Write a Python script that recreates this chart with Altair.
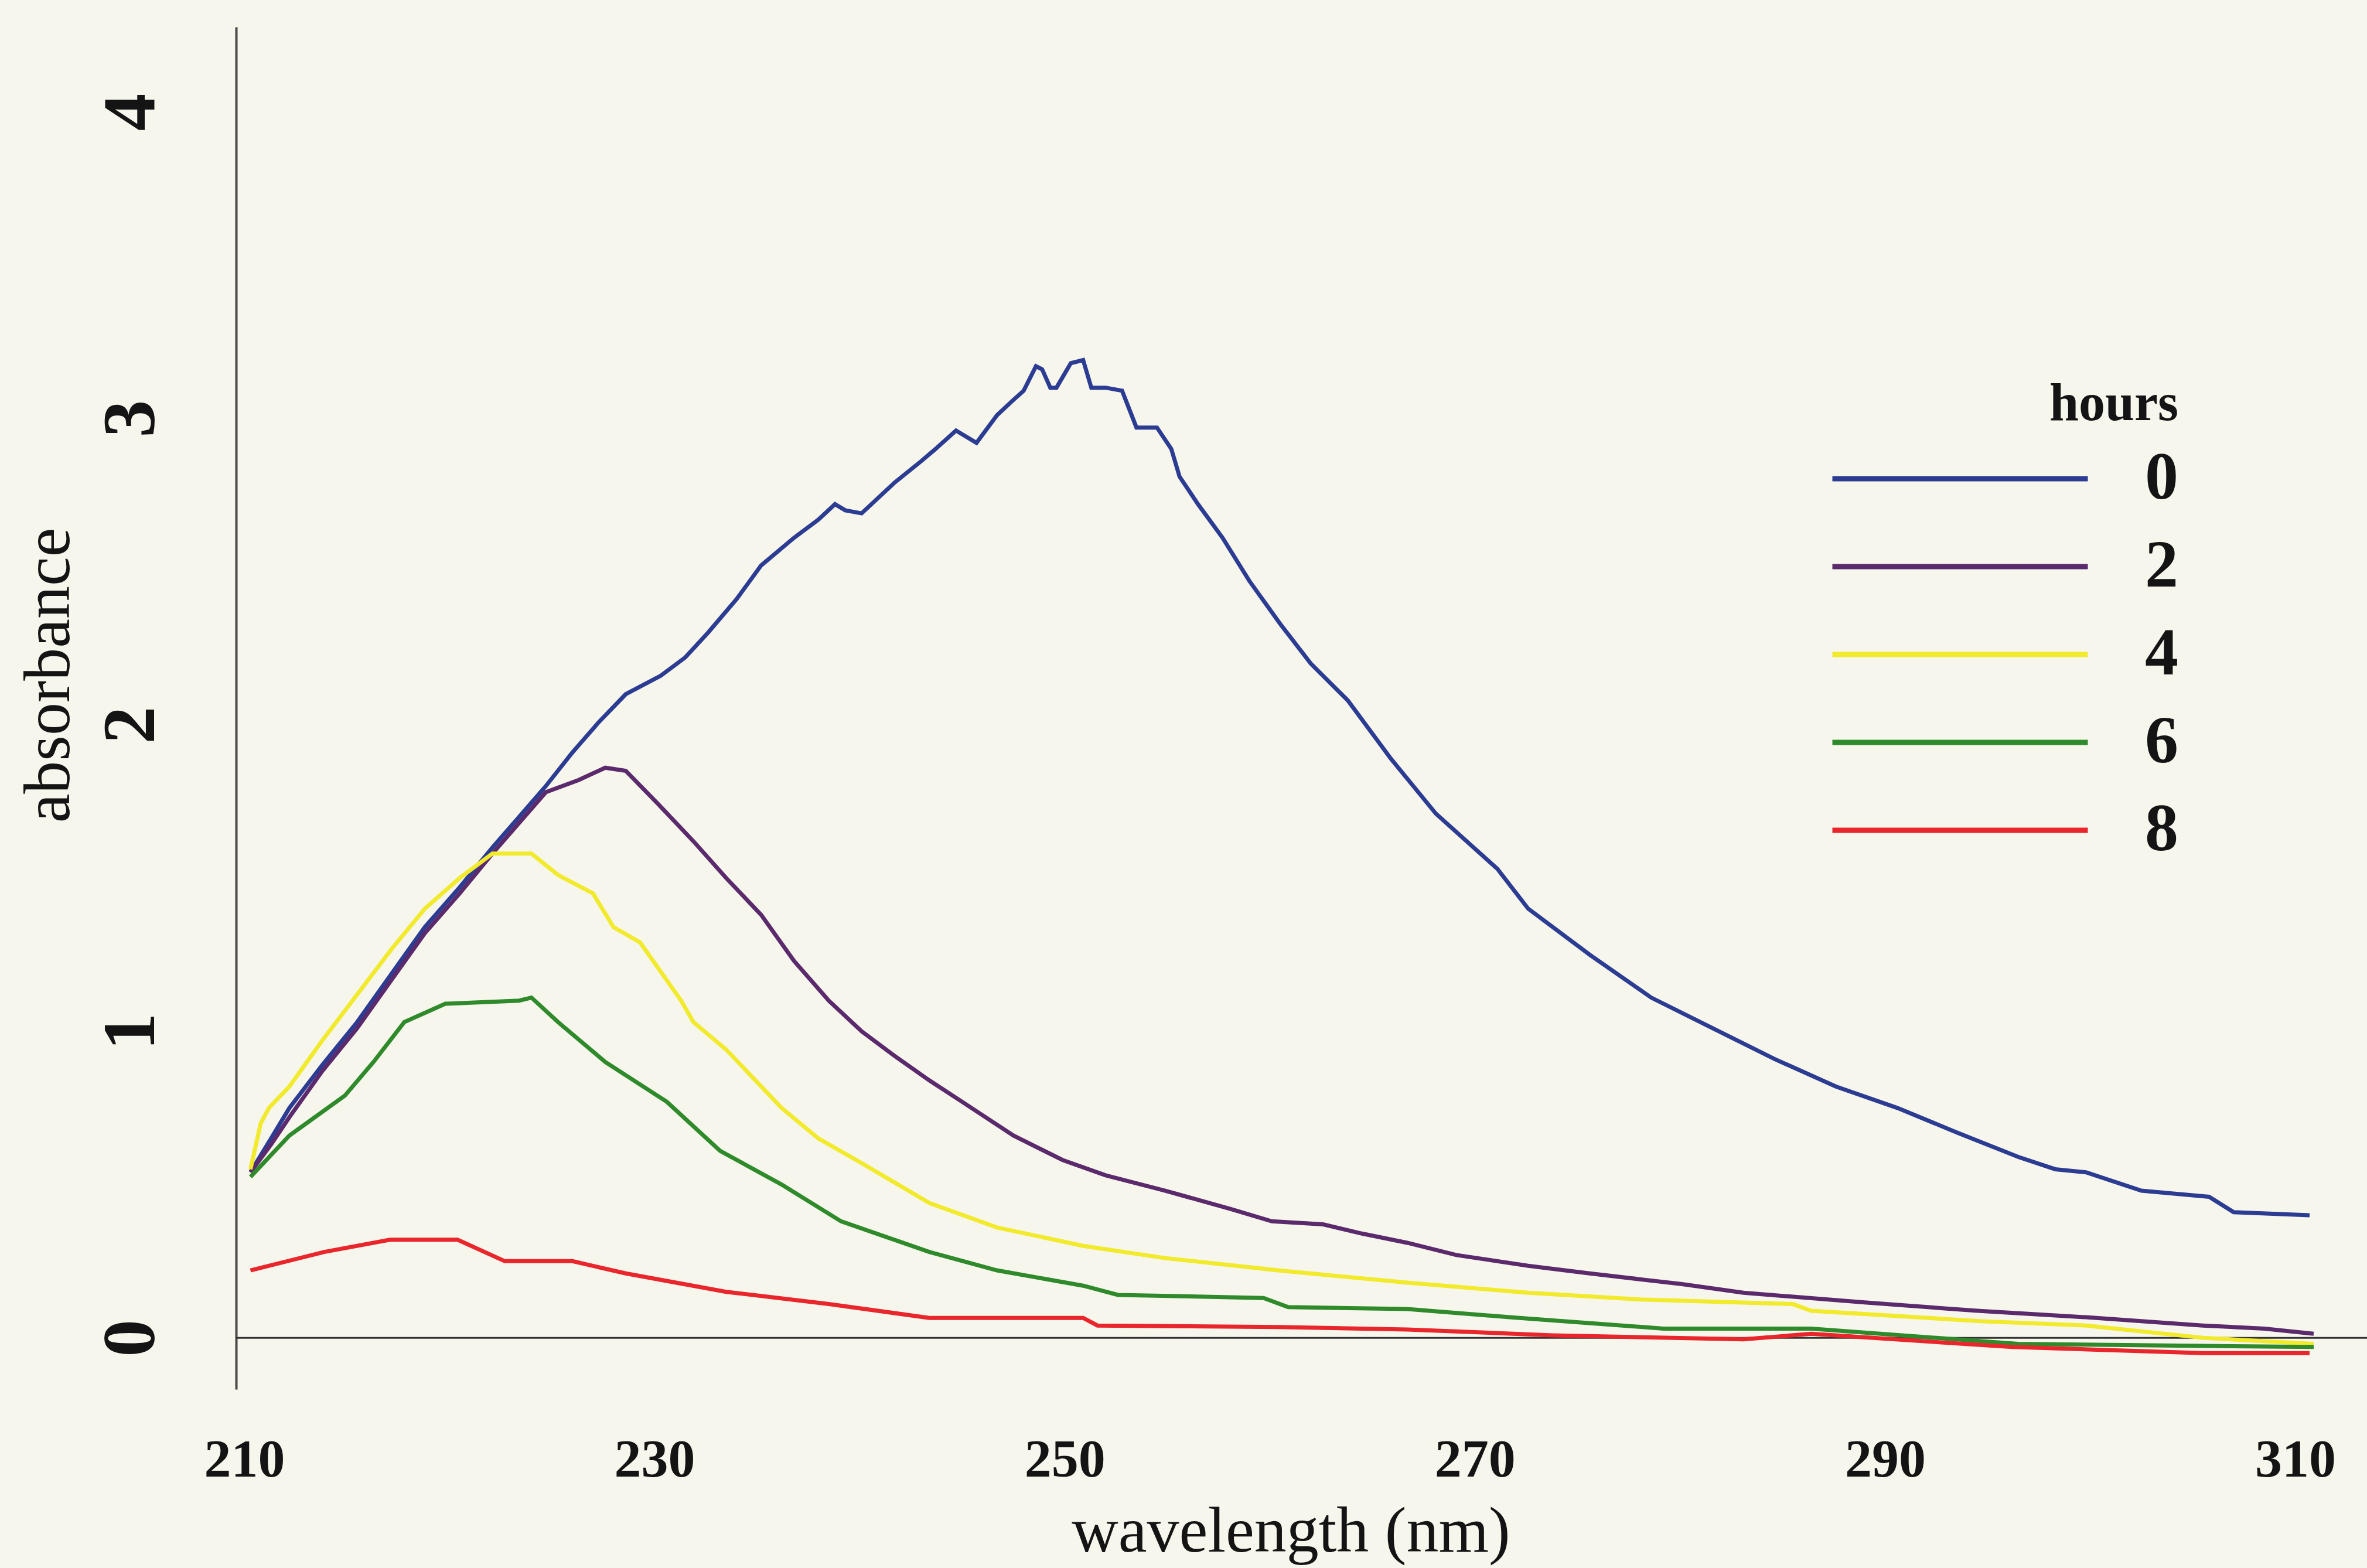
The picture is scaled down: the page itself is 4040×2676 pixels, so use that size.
import altair as alt
import pandas as pd

hours = ["0", "2", "4", "6", "8"]
colors = ["#2b3c92", "#5b2a6c", "#f2ea2c", "#2e8a2a", "#e8262c"]

wl_0 = [210.3, 211.3, 212.2, 213.8, 215.5, 217.2, 218.8, 220.5, 222.1, 223.4, 224.7, 226.0, 227.3, 228.6,
        230.3, 231.5, 232.6, 234.0, 235.2, 236.8, 238.0, 238.8, 239.3, 240.1, 241.7, 243.0, 243.7, 244.7,
        245.7, 246.7, 247.5, 248.0, 248.6, 248.9, 249.3, 249.6, 250.3, 250.9, 251.3, 252.0, 252.8, 253.5,
        254.5, 255.2, 255.6, 256.5, 257.7, 259.0, 260.5, 262.0, 263.8, 265.9, 268.1, 271.1, 272.6, 275.6,
        278.6, 281.6, 284.6, 287.6, 290.6, 293.5, 296.5, 298.3, 299.8, 302.5, 305.8, 307.0, 310.7]
abs_0 = [0.54, 0.65, 0.75, 0.89, 1.03, 1.19, 1.34, 1.47, 1.60, 1.70, 1.80, 1.91, 2.01, 2.10,
         2.16, 2.22, 2.30, 2.41, 2.52, 2.61, 2.67, 2.72, 2.70, 2.69, 2.79, 2.86, 2.90, 2.96,
         2.92, 3.01, 3.06, 3.09, 3.17, 3.16, 3.10, 3.10, 3.18, 3.19, 3.10, 3.10, 3.09, 2.97,
         2.97, 2.90, 2.81, 2.72, 2.61, 2.47, 2.33, 2.20, 2.08, 1.89, 1.71, 1.53, 1.40, 1.25,
         1.11, 1.01, 0.91, 0.82, 0.75, 0.67, 0.59, 0.55, 0.54, 0.48, 0.46, 0.41, 0.40]

wl_2 = [210.3, 211.3, 212.2, 213.8, 215.5, 217.2, 218.8, 220.5, 222.1, 223.4, 224.7, 226.3, 227.6, 228.6,
        230.2, 231.9, 233.5, 235.2, 236.8, 238.5, 240.1, 241.7, 243.4, 245.0, 247.5, 249.9, 252.0, 254.9,
        258.1, 260.1, 262.6, 264.5, 266.7, 269.1, 272.6, 275.6, 280.1, 283.1, 289.1, 294.5, 299.8, 305.5,
        308.5, 310.9]
abs_2 = [0.54, 0.63, 0.72, 0.87, 1.01, 1.17, 1.32, 1.45, 1.58, 1.68, 1.78, 1.82, 1.86, 1.85,
         1.74, 1.62, 1.50, 1.38, 1.23, 1.10, 1.00, 0.92, 0.84, 0.77, 0.66, 0.58, 0.53, 0.48,
         0.42, 0.38, 0.37, 0.34, 0.31, 0.27, 0.235, 0.21, 0.175, 0.147, 0.115, 0.088, 0.067, 0.04,
         0.03, 0.013]

wl_4 = [210.3, 210.8, 211.2, 212.2, 213.8, 215.5, 217.2, 218.8, 220.5, 222.1, 224.0, 225.3, 227.0, 228.0,
        229.3, 231.3, 231.9, 233.5, 236.2, 238.0, 240.1, 243.4, 246.7, 250.9, 254.9, 260.4, 266.7, 272.6,
        278.1, 285.5, 286.4, 294.7, 299.8, 305.5, 310.9]
abs_4 = [0.55, 0.70, 0.75, 0.82, 0.97, 1.12, 1.27, 1.40, 1.50, 1.58, 1.58, 1.51, 1.45, 1.34,
         1.29, 1.10, 1.03, 0.94, 0.75, 0.65, 0.57, 0.44, 0.36, 0.30, 0.26, 0.22, 0.18, 0.147,
         0.125, 0.11, 0.088, 0.054, 0.04, 0.0, -0.02]

wl_6 = [210.3, 212.2, 214.9, 216.3, 217.8, 219.8, 223.4, 224.0, 225.3, 227.6, 230.6, 233.2, 236.2, 239.1,
        243.4, 246.7, 250.9, 252.6, 259.7, 260.9, 266.7, 271.7, 279.2, 286.4, 296.5, 310.9]
abs_6 = [0.525, 0.66, 0.79, 0.90, 1.03, 1.09, 1.10, 1.11, 1.03, 0.90, 0.77, 0.61, 0.50, 0.38,
         0.28, 0.22, 0.17, 0.14, 0.13, 0.10, 0.094, 0.067, 0.03, 0.03, -0.02, -0.03]

wl_8 = [210.3, 213.9, 217.1, 220.4, 222.7, 226.0, 228.6, 233.5, 238.5, 243.4, 250.9, 251.6, 260.4, 266.7,
        273.8, 283.1, 286.4, 296.2, 305.5, 310.7]
abs_8 = [0.22, 0.28, 0.32, 0.32, 0.25, 0.25, 0.21, 0.15, 0.11, 0.065, 0.065, 0.04, 0.035, 0.027,
         0.008, -0.005, 0.013, -0.03, -0.05, -0.05]

x_ticks = [210, 230, 250, 270, 290, 310]
y_ticks = [0, 1, 2, 3, 4]

rows = []
for h, wl, ab in zip(hours, [wl_0, wl_2, wl_4, wl_6, wl_8], [abs_0, abs_2, abs_4, abs_6, abs_8]):
    for w, a in zip(wl, ab):
        rows.append({"wavelength": w, "absorbance": a, "hours": h})
df = pd.DataFrame(rows)

W, H = 3637, 2325
serif = "Liberation Serif"
ink = "#141414"

x_scale = alt.Scale(domain=[209.6, 313.5], nice=False, zero=False)
y_scale = alt.Scale(domain=[-0.168, 4.277], nice=False, zero=False)

lines = alt.Chart(df).mark_line(strokeWidth=7, clip=True).encode(
    x=alt.X("wavelength:Q", scale=x_scale,
            axis=alt.Axis(values=x_ticks, format="d", title="wavelength (nm)", grid=False, domain=False,
                          ticks=False, tickSize=0, labelFlush=False, labelOverlap=False,
                          labelFont=serif, labelFontWeight="bold", labelFontSize=92, labelColor=ink,
                          labelBaseline="alphabetic", labelAlign="center", labelPadding=148,
                          titleFont=serif, titleFontWeight="normal", titleFontSize=110, titleColor=ink,
                          titleX=1800, titleY=276, titleBaseline="alphabetic", titleAlign="center")),
    y=alt.Y("absorbance:Q", scale=y_scale,
            axis=alt.Axis(values=y_ticks, format="d", title="absorbance", grid=False, ticks=False,
                          tickSize=0, domainColor="#4a4a4a", domainWidth=4, labelFlush=False,
                          labelOverlap=False, labelAngle=270, labelAlign="center",
                          labelBaseline="alphabetic", labelPadding=141,
                          labelFont=serif, labelFontWeight="bold", labelFontSize=128, labelColor=ink,
                          titleFont=serif, titleFontWeight="normal", titleFontSize=112, titleColor=ink,
                          titleAngle=270, titleX=-286, titleY=1106, titleBaseline="alphabetic",
                          titleAlign="center")),
    color=alt.Color("hours:N", scale=alt.Scale(domain=hours, range=colors),
                    legend=alt.Legend(title="hours", orient="none", legendX=2720, legendY=600,
                                      symbolType="stroke", symbolSize=436 * 436, symbolStrokeWidth=9,
                                      clipHeight=130, rowPadding=20, labelOffset=93, padding=0,
                                      labelFont=serif, labelFontWeight="bold", labelFontSize=114,
                                      labelColor=ink, titleFont=serif, titleFontWeight="bold",
                                      titleFontSize=90, titleColor=ink, titleAnchor="end",
                                      titlePadding=16, titleLimit=1000)),
)

zero = alt.Chart(pd.DataFrame({"y": [0]})).mark_rule(color="#333333", strokeWidth=3).encode(
    y=alt.Y("y:Q", scale=y_scale)
)

chart = alt.layer(zero, lines).properties(
    width=W, height=H,
    padding={"left": 403, "top": 46, "right": 0, "bottom": 305},
    autosize=alt.AutoSizeParams(type="none"),
    background="#f7f6ec",
).configure_view(strokeWidth=0)

chart.save("out.html", embed_options={"renderer": "svg", "actions": False})
